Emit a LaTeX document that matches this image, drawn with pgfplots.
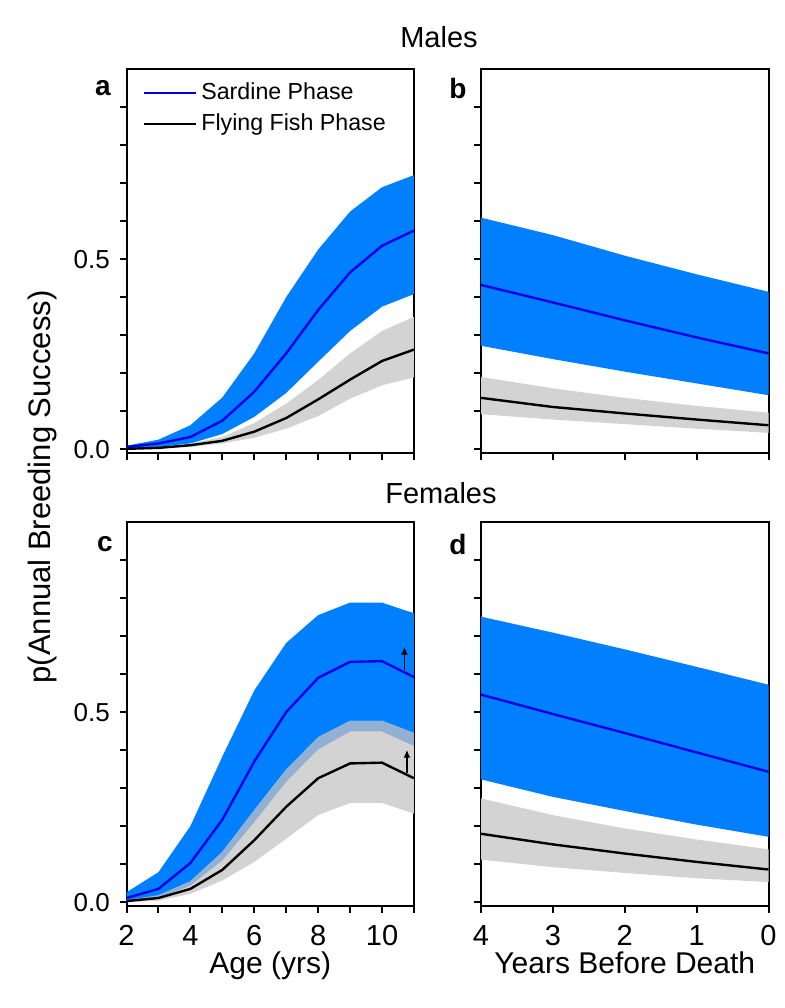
\documentclass[border=0pt]{standalone}
\usepackage{fontspec}
\setmainfont{Liberation Sans}
\usepackage{pgfplots}
\pgfplotsset{compat=1.18}
\usepackage{pgfplotstable}
\usepgfplotslibrary{fillbetween}
\usetikzlibrary{arrows.meta}

\definecolor{sardband}{RGB}{0,128,255}
\definecolor{sardline}{RGB}{0,0,230}
\definecolor{flyband}{RGB}{211,211,211}
\definecolor{overlap}{RGB}{145,176,210}

% columns: x, sardine mean/upper/lower, flying fish mean/upper/lower
\pgfplotstableread{
x bm bu bl km ku kl
2 0.006 0.009 0.002 0.001 0.002 0.000
3 0.015 0.025 0.006 0.0035 0.005 0.002
4 0.032 0.063 0.015 0.0105 0.015 0.006
5 0.075 0.136 0.040 0.022 0.032 0.015
6 0.151 0.252 0.085 0.046 0.069 0.030
7 0.252 0.400 0.148 0.082 0.120 0.054
8 0.366 0.525 0.230 0.131 0.182 0.087
9 0.465 0.625 0.311 0.183 0.252 0.133
10 0.535 0.689 0.375 0.232 0.311 0.168
11 0.575 0.721 0.408 0.262 0.348 0.189
}\maleage
\pgfplotstableread{
x bm bu bl km ku kl
4 0.432 0.609 0.272 0.135 0.190 0.092
3 0.386 0.563 0.237 0.111 0.160 0.078
2 0.339 0.509 0.204 0.094 0.135 0.066
1 0.294 0.460 0.173 0.078 0.114 0.054
0 0.252 0.414 0.142 0.063 0.096 0.043
}\maledeath
\pgfplotstableread{
x bm bu bl km ku kl
2 0.011 0.026 0.002 0.003 0.005 0.000
3 0.035 0.079 0.011 0.011 0.018 0.004
4 0.103 0.200 0.044 0.035 0.055 0.022
5 0.217 0.383 0.110 0.085 0.132 0.057
6 0.370 0.557 0.211 0.163 0.242 0.106
7 0.500 0.682 0.317 0.251 0.349 0.167
8 0.590 0.755 0.402 0.326 0.434 0.229
9 0.632 0.788 0.449 0.365 0.477 0.261
10 0.634 0.788 0.449 0.367 0.477 0.261
11 0.592 0.760 0.411 0.326 0.445 0.233
}\femaleage
\pgfplotstableread{
x bm bu bl km ku kl
4 0.546 0.751 0.323 0.180 0.273 0.112
3 0.495 0.709 0.277 0.152 0.229 0.092
2 0.445 0.665 0.240 0.128 0.194 0.077
1 0.394 0.619 0.204 0.106 0.165 0.063
0 0.343 0.572 0.172 0.086 0.139 0.053
}\femaledeath

\pgfplotsset{panel/.style={scale only axis, width=143.75pt, height=192pt,
  anchor=south west, ymin=-0.01, ymax=1.0, axis line style={line width=1pt},
  tick align=outside, xtick pos=bottom, ytick pos=left,
  major tick length=3.3pt, minor tick length=3.3pt,
  every tick/.style={black, line width=1pt},
  ytick={0,0.5}, minor ytick={0.1,0.2,0.3,0.4,0.6,0.7,0.8,0.9},
  /pgf/number format/assume math mode=true,
  yticklabel style={font=\fontsize{13}{15}\selectfont, xshift=-1.5pt,
    /pgf/number format/.cd, fixed, fixed zerofill, precision=1},
  xticklabel style={font=\fontsize{14.5}{17}\selectfont, yshift=-3pt},
  xlabel style={font=\fontsize{15}{18}\selectfont, yshift=4pt},
  clip=false},
  agepanel/.style={panel, xmin=2, xmax=11, xtick={2,4,6,8,10},
    minor xtick={3,5,7,9,11}},
  deathpanel/.style={panel, xmin=0, xmax=4, x dir=reverse,
    xtick={0,1,2,3,4}, yticklabels={}}}

\begin{document}
\begin{tikzpicture}

% a: males by age
\begin{axis}[agepanel, at={(63.25pt,277.5pt)}, xticklabels={},
  legend style={at={(axis description cs:0.035,0.985)}, anchor=north west,
    draw=none, fill=none, font=\fontsize{11.6}{13}\selectfont,
    row sep=1.5pt, legend cell align=left},
  legend image code/.code={\draw[#1] (0pt,0pt) -- (26pt,0pt);}]
\addplot[draw=none, name path=bu, forget plot] table[x=x, y=bu]{\maleage};
\addplot[draw=none, name path=bl, forget plot] table[x=x, y=bl]{\maleage};
\addplot[draw=none, name path=ku, forget plot] table[x=x, y=ku]{\maleage};
\addplot[draw=none, name path=kl, forget plot] table[x=x, y=kl]{\maleage};
\addplot[sardband, forget plot] fill between[of=bu and bl];
\addplot[flyband, forget plot] fill between[of=ku and kl];
\addplot[sardline, line width=1.2pt] table[x=x, y=bm]{\maleage};
\addplot[black, line width=1.2pt] table[x=x, y=km]{\maleage};
\legend{Sardine Phase, Flying Fish Phase}
\end{axis}

% b: males by years before death
\begin{axis}[deathpanel, at={(240.5pt,277.5pt)}, xticklabels={}]
\addplot[draw=none, name path=bu] table[x=x, y=bu]{\maledeath};
\addplot[draw=none, name path=bl] table[x=x, y=bl]{\maledeath};
\addplot[draw=none, name path=ku] table[x=x, y=ku]{\maledeath};
\addplot[draw=none, name path=kl] table[x=x, y=kl]{\maledeath};
\addplot[sardband] fill between[of=bu and bl];
\addplot[flyband] fill between[of=ku and kl];
\addplot[sardline, line width=1.2pt] table[x=x, y=bm]{\maledeath};
\addplot[black, line width=1.2pt] table[x=x, y=km]{\maledeath};
\end{axis}

% c: females by age
\begin{axis}[agepanel, at={(63.25pt,51pt)}, xlabel={Age (yrs)}]
\addplot[draw=none, name path=bu] table[x=x, y=bu]{\femaleage};
\addplot[draw=none, name path=bl] table[x=x, y=bl]{\femaleage};
\addplot[draw=none, name path=ku] table[x=x, y=ku]{\femaleage};
\addplot[draw=none, name path=kl] table[x=x, y=kl]{\femaleage};
\addplot[sardband] fill between[of=bu and bl];
\addplot[flyband] fill between[of=ku and kl];
\addplot[overlap] fill between[of=ku and bl];
\addplot[sardline, line width=1.2pt] table[x=x, y=bm]{\femaleage};
\addplot[black, line width=1.2pt] table[x=x, y=km]{\femaleage};
\draw[-{Latex[length=4pt, width=3.5pt]}, line width=0.9pt]
  (axis cs:10.7,0.612) -- (axis cs:10.7,0.672);
\draw[-{Latex[length=4pt, width=3.5pt]}, line width=0.9pt]
  (axis cs:10.78,0.341) -- (axis cs:10.78,0.401);
\end{axis}

% d: females by years before death
\begin{axis}[deathpanel, at={(240.5pt,51pt)}, xlabel={Years Before Death}]
\addplot[draw=none, name path=bu] table[x=x, y=bu]{\femaledeath};
\addplot[draw=none, name path=bl] table[x=x, y=bl]{\femaledeath};
\addplot[draw=none, name path=ku] table[x=x, y=ku]{\femaledeath};
\addplot[draw=none, name path=kl] table[x=x, y=kl]{\femaledeath};
\addplot[sardband] fill between[of=bu and bl];
\addplot[flyband] fill between[of=ku and kl];
\addplot[sardline, line width=1.2pt] table[x=x, y=bm]{\femaledeath};
\addplot[black, line width=1.2pt] table[x=x, y=km]{\femaledeath};
\end{axis}

\node[font=\fontsize{14.5}{17}\selectfont] at (219.5pt,485.5pt) {Males};
\node[font=\fontsize{14.5}{17}\selectfont] at (220.5pt,257.5pt) {Females};
\node[rotate=90, font=\fontsize{15.5}{18}\selectfont] at (21pt,260.5pt)
  {p(Annual Breeding Success)};
\node[font=\fontsize{14}{16}\bfseries] at (51.5pt,460pt) {a};
\node[font=\fontsize{14}{16}\bfseries] at (229pt,460pt) {b};
\node[font=\fontsize{14}{16}\bfseries] at (52.5pt,232pt) {c};
\node[font=\fontsize{14}{16}\bfseries] at (229pt,232pt) {d};

\pgfresetboundingbox
\useasboundingbox (0pt,0pt) rectangle (392.5pt,504pt);
\end{tikzpicture}
\end{document}
